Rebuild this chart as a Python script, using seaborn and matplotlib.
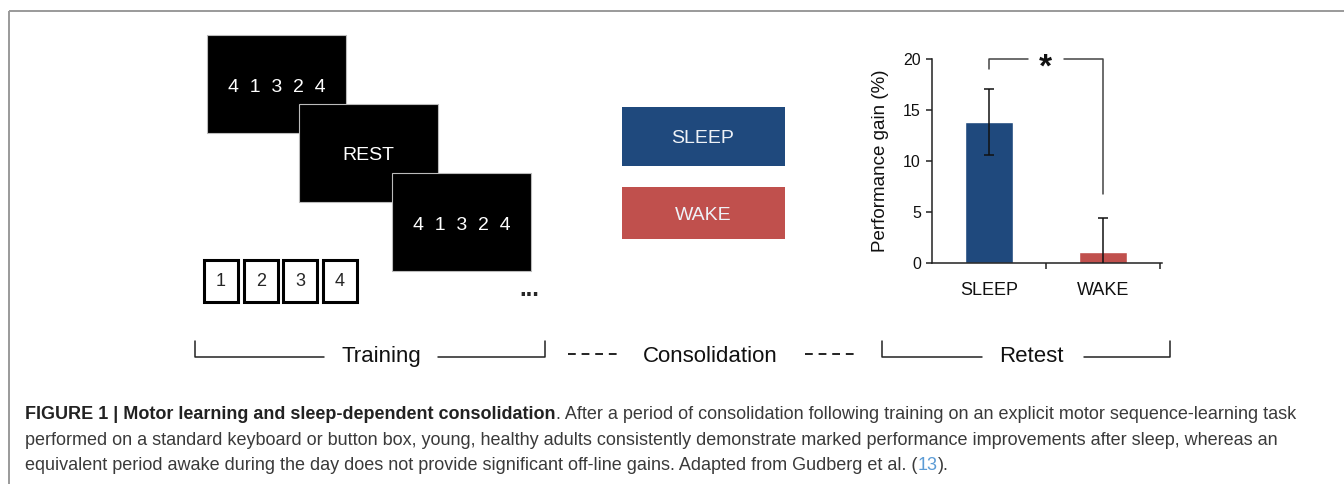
import matplotlib
matplotlib.use("Agg")
import matplotlib.pyplot as plt
from matplotlib.patches import Rectangle
import seaborn as sns

# Data
conditions = ["SLEEP", "WAKE"]
gain = [13.8, 1.1]          # performance gain (%)
gain_err = [3.25, 3.3]      # error bar half-length
bar_colors = ["#1F497D", "#C0504D"]
y_ticks = [0, 5, 10, 15, 20]
screen_texts = ["4  1  3  2  4", "REST", "4  1  3  2  4"]
keys = ["1", "2", "3", "4"]
phases = ["Training", "Consolidation", "Retest"]
caption_bold = "FIGURE 1 | Motor learning and sleep-dependent consolidation"
caption_line1 = ". After a period of consolidation following training on an explicit motor sequence-learning task"
caption_line2 = ("performed on a standard keyboard or button box, young, healthy adults consistently "
                 "demonstrate marked performance improvements after sleep, whereas an")
caption_line3 = ("equivalent period awake during the day does not provide significant off-line gains. "
                 "Adapted from Gudberg et al. (")
caption_ref = "13"

sns.set_style("ticks")
plt.rcParams["font.family"] = ["Liberation Sans", "DejaVu Sans"]

W, H = 1344, 484
fig = plt.figure(figsize=(W / 100, H / 100), dpi=100)

# background axes in pixel coordinates for the diagram parts
bg = fig.add_axes([0, 0, 1, 1])
bg.set_xlim(0, W)
bg.set_ylim(H, 0)
bg.axis("off")

# frame
bg.plot([9, W], [11, 11], color="#9a9a9a", lw=1.4, solid_capstyle="butt")
bg.plot([9, 9], [11, H], color="#9a9a9a", lw=1.4, solid_capstyle="butt")

# task screens (stacked, each one on top of the previous)
screens = [(207, 35), (299, 104), (392, 173)]
sw, sh = 139, 98
for i, ((x0, y0), txt) in enumerate(zip(screens, screen_texts)):
    bg.add_patch(Rectangle((x0, y0), sw, sh, facecolor="black", edgecolor="#bbbbbb",
                           lw=0.8, zorder=2 + i))
    bg.text(x0 + sw / 2, y0 + sh / 2 + 3, txt, color="white", fontsize=14,
            ha="center", va="center", zorder=2 + i)

# keyboard keys
for i, k in enumerate(keys):
    x0 = 204 + i * 39.7
    bg.add_patch(Rectangle((x0, 260), 34, 42, facecolor="white", edgecolor="black",
                           lw=2.2, zorder=2))
    bg.text(x0 + 17, 282, k, fontsize=13, ha="center", va="center", zorder=3)
bg.text(529, 290, "...", fontsize=17, fontweight="bold", ha="center", va="center")

# consolidation condition boxes
box_y = {"SLEEP": (107, 59), "WAKE": (187, 52)}
for label, c in zip(conditions, bar_colors):
    y0, hh = box_y[label]
    bg.add_patch(Rectangle((622, y0), 163, hh, facecolor=c, edgecolor="none"))
    bg.text(703, y0 + hh / 2 + 2, label, color="#eef2f7",
            fontsize=14, ha="center", va="center")

# timeline
lc = "#222222"
line_y, top_y = 357, 341
gaps = {"Training": (57, 57), "Retest": (49, 53)}
for (xa, xb, tx), name in zip([(195, 545, 381), (None, None, 710), (882, 1170, 1031)], phases):
    if xa is not None:
        tw = gaps[name]
        bg.plot([xa, xa, tx - tw[0]], [top_y, line_y, line_y], color=lc, lw=1.1)
        bg.plot([tx + tw[1], xb, xb], [line_y, line_y, top_y], color=lc, lw=1.1)
    bg.text(tx, 362, name, fontsize=16, ha="center", va="baseline", color="#111111")
for xa, xb in [(568, 619), (805, 856)]:
    bg.plot([xa, xb], [354, 354], color=lc, lw=1.4, linestyle=(0, (4.0, 3.0)))

# caption
cap_x = 25
cap_col = "#3a3a3a"
fs_cap = 13
t0 = bg.text(cap_x, 419, caption_bold, fontsize=fs_cap, fontweight="bold",
             color="#222222", va="baseline")
bg.annotate(caption_line1, xy=(1, 419), xycoords=(t0, "data"), fontsize=fs_cap,
            color=cap_col, va="baseline", annotation_clip=False)
bg.text(cap_x, 445, caption_line2, fontsize=fs_cap, color=cap_col, va="baseline")
t3 = bg.text(cap_x, 470, caption_line3, fontsize=fs_cap, color=cap_col, va="baseline")
t4 = bg.annotate(caption_ref, xy=(1, 470), xycoords=(t3, "data"), fontsize=fs_cap,
                 color="#5b9bd5", va="baseline", annotation_clip=False)
bg.annotate(").", xy=(1, 470), xycoords=(t4, "data"), fontsize=fs_cap,
            color=cap_col, va="baseline", annotation_clip=False)

# bar chart
ax_l, ax_r, ax_t, ax_b = 932, 1162, 59, 263
ax = fig.add_axes([ax_l / W, 1 - ax_b / H, (ax_r - ax_l) / W, (ax_b - ax_t) / H])
ax.patch.set_visible(False)
sns.barplot(x=conditions, y=gain, hue=conditions, palette=bar_colors, saturation=1,
            width=0.42, legend=False, ax=ax)
ax.errorbar(range(len(conditions)), gain, yerr=gain_err, fmt="none", ecolor="#111111",
            elinewidth=1.1, capsize=3.5, capthick=1.1, zorder=5)
ax.set_xlim(-0.5, 1.52)
ax.set_ylim(0, 20)
ax.set_yticks(y_ticks)
ax.set_xticks(range(len(conditions)))
ax.set_xticklabels(conditions, fontsize=13)
ax.set_xticks([0.5, 1.5], minor=True)
ax.tick_params(axis="x", which="major", length=0, pad=14, colors="#111111")
ax.tick_params(axis="x", which="minor", length=4, width=1.1, color="#222222")
ax.tick_params(axis="y", length=4, width=1.1, labelsize=11.5, pad=4, color="#222222",
               labelcolor="#111111")
ax.set_ylabel("Performance gain (%)", fontsize=13.5, labelpad=10, color="#111111")
ax.set_xlabel("")
for s in ["top", "right"]:
    ax.spines[s].set_visible(False)
for s in ["left", "bottom"]:
    ax.spines[s].set_linewidth(1.1)
    ax.spines[s].set_color("#222222")

# significance bracket
bc = "#444444"
ax.plot([0, 0, 0.34], [19.0, 20, 20], color=bc, lw=1.1, clip_on=False)
ax.plot([0.66, 1, 1], [20, 20, 6.8], color=bc, lw=1.1, clip_on=False)
bg.text(1045, 77, "*", fontsize=24, fontweight="bold", ha="center", va="baseline",
        color="#111111")

fig.savefig("out.png", dpi=100)
